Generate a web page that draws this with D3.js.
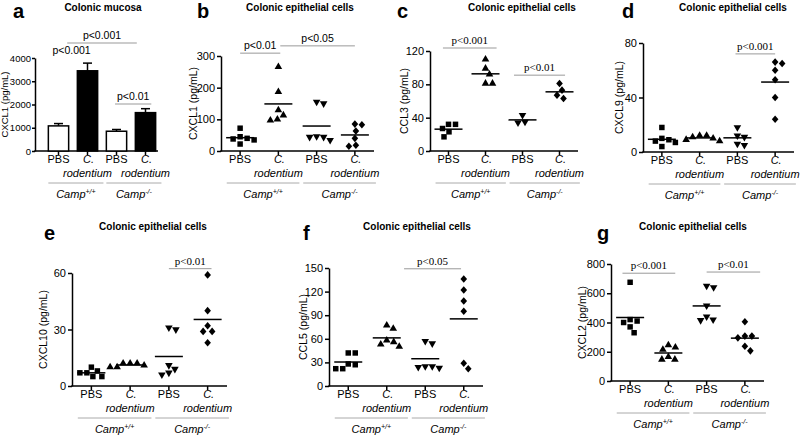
<!DOCTYPE html>
<html><head><meta charset="utf-8">
<script src="https://cdn.jsdelivr.net/npm/d3@7"></script>
<style>body{margin:0;background:#fff}</style>
</head><body><svg id="c" width="800" height="437" style="background:#fff"></svg>
<script>
// ---------- data ----------
const categories = ["PBS", "C. rodentium", "PBS", "C. rodentium"];
const genotypes = ["Camp+/+", "Camp-/-"];

// a: colonic mucosa CXCL1, mean + SEM
const aMeans = [1080, 3450, 850, 1650];
const aSEM = [100, 330, 75, 170];
const aTicks = [0, 1000, 2000, 3000, 4000];

// b-g: colonic epithelial cells, individual mice
const bCXCL1 = [[72, 45, 40, 38, 35, 22], [266, 187, 129, 113, 97, 100], [155, 150, 46, 44, 44, 34], [85, 83, 63, 40, 18, 15]];
const bTicks = [0, 100, 200, 300];
const cCCL3 = [[32, 32, 27, 23, 17], [110, 99, 92, 81, 81], [43, 35, 34], [81, 73, 67, 63]];
const cTicks = [0, 40, 80, 120];
const dCXCL9 = [[18, 10, 9, 8, 7, 4], [8, 11, 9, 12, 10, 12], [18, 12, 11, 6, 5], [65, 66, 60, 53, 40, 24]];
const dTicks = [0, 40, 80];
const eCXCL10 = [[10, 8, 7, 7, 5, 5], [12, 12, 11, 10, 10, 12], [30, 31, 11, 9, 7, 6], [59, 40, 32, 29, 29, 23]];
const eTicks = [0, 30, 60];
const fCCL5 = [[42, 42, 28, 27, 22, 22], [77, 73, 56, 58, 53, 50], [57, 54, 25, 25, 23, 24], [136, 122, 108, 95, 29, 22]];
const fTicks = [0, 30, 60, 90, 120, 150];
const gCXCL2 = [[675, 420, 410, 400, 370, 330], [245, 230, 215, 165, 147, 147], [650, 640, 515, 440, 415, 420], [405, 307, 307, 295, 238, 206]];
const gTicks = [0, 200, 400, 600, 800];

// significance comparisons (category index span, level in data units)
const aSig = [{from: 0.3, to: 2.7, level: 4645, label: "p<0.001"}, {from: 1.95, to: 3.2, level: 2021, label: "p<0.01"}, {at: 0.45, level: 4000, label: "p<0.001", noLine: true}];
const bSig = [{from: 0, to: 1.05, level: 309, label: "p<0.01"}, {from: 1.05, to: 3.0, level: 332, label: "p<0.05"}];
const cSig = [{from: -0.15, to: 1.3, level: 123.6, label: "p<0.001"}, {from: 1.77, to: 3.15, level: 91, label: "p<0.01"}];
const dSig = [{from: 1.95, to: 3.0, level: 72, label: "p<0.001"}];
const eSig = [{from: 2.0, to: 3.1, level: 62.3, label: "p<0.01"}];
const fSig = [{from: 1.45, to: 2.93, level: 149, label: "p<0.05"}];
const gSig = [{from: -0.2, to: 1.18, level: 737, label: "p<0.001"}, {from: 2.0, to: 3.4, level: 745, label: "p<0.01"}];

// ---------- layout ----------
const SANS = "Arial, 'Liberation Sans', sans-serif";
const SERIF = "'Times New Roman', 'Liberation Serif', serif";
const panels = [
  {letter: "a", kind: "bar", title: "Colonic mucosa", ylabel: "CXCL1 (pg/mL)", means: aMeans, sem: aSEM, ticks: aTicks, sig: aSig, sigFont: SANS,
   y0: 151, yTop: 58, axisX: 35, axisEnd: 158, xRange: [44, 160], padIn: 0.3, padOut: 0.15, labelX: 5, labelSize: 9.5, tickSize: 9.5, tickLen: 3, tickPad: 1, titleX: 103, letterX: 13, row: 0},
  {letter: "b", kind: "dot", title: "Colonic epithelial cells", ylabel: "CXCL1 (pg/mL)", values: bCXCL1, ticks: bTicks, sig: bSig, sigFont: SANS,
   y0: 151, yTop: 56, axisX: 221, axisEnd: 374, xRange: [221, 374], labelX: 193, titleX: 300, letterX: 197, row: 0},
  {letter: "c", kind: "dot", title: "Colonic epithelial cells", ylabel: "CCL3 (pg/mL)", values: cCCL3, ticks: cTicks, sig: cSig, sigFont: SERIF,
   y0: 151, yTop: 51, axisX: 430, axisEnd: 578, xRange: [430, 578], labelX: 404, titleX: 522, letterX: 397, row: 0},
  {letter: "d", kind: "dot", title: "Colonic epithelial cells", ylabel: "CXCL9 (pg/mL)", values: dCXCL9, ticks: dTicks, sig: dSig, sigFont: SERIF,
   y0: 152, yTop: 43, axisX: 643, axisEnd: 794, xRange: [643, 794], labelX: 619, titleX: 733, letterX: 622, row: 0},
  {letter: "e", kind: "dot", title: "Colonic epithelial cells", ylabel: "CXCL10 (pg/mL)", values: eCXCL10, ticks: eTicks, sig: eSig, sigFont: SERIF,
   y0: 386, yTop: 273, axisX: 72, axisEnd: 227, xRange: [72, 227], labelX: 43, titleX: 153, letterX: 44, row: 1},
  {letter: "f", kind: "dot", title: "Colonic epithelial cells", ylabel: "CCL5 (pg/mL)", values: fCCL5, ticks: fTicks, sig: fSig, sigFont: SERIF,
   y0: 386, yTop: 268, axisX: 329, axisEnd: 483, xRange: [329, 483], labelX: 303, titleX: 417, letterX: 303, row: 1},
  {letter: "g", kind: "dot", title: "Colonic epithelial cells", ylabel: "CXCL2 (pg/mL)", values: gCXCL2, ticks: gTicks, sig: gSig, sigFont: SERIF,
   y0: 381, yTop: 264, axisX: 611, axisEnd: 764, xRange: [611, 764], labelX: 582, titleX: 693, letterX: 597, row: 1}
];

const svg = d3.select("#c");

// marker shapes for the four groups
const markerPaths = [
  d3.symbol().type(d3.symbolSquare).size(30)(),
  d3.symbol().type(d3.symbolTriangle).size(25)(),
  d3.symbol().type(d3.symbolTriangle).size(25)(),
  "M0,-3.8L3.3,0L0,3.8L-3.3,0Z"
];
const markerRot = [0, 0, 180, 0];

function swarm(vals, y, cx, d) {
  const placed = [];
  const out = new Array(vals.length);
  const order = vals.map((v, i) => i).sort((a, b) => vals[b] - vals[a]);
  order.forEach(i => {
    const py = y(vals[i]);
    let px = cx;
    for (let k = 0; k < 400; k++) {
      const off = k === 0 ? 0 : (k % 2 ? 1 : -1) * Math.ceil(k / 2) * 0.5;
      const cand = cx + off;
      const hit = placed.some(p => (p[0] - cand) ** 2 + (p[1] - py) ** 2 < d * d);
      if (!hit) { px = cand; break; }
    }
    placed.push([px, py]);
    out[i] = [px, py];
  });
  return out;
}

panels.forEach(cfg => {
  const g = svg.append("g");
  const y = d3.scaleLinear().domain([0, d3.max(cfg.ticks)]).range([cfg.y0, cfg.yTop]);
  const x = d3.scaleBand().domain(d3.range(categories.length)).range(cfg.xRange)
    .paddingInner(cfg.padIn || 0).paddingOuter(cfg.padOut || 0);
  const step = x.step();
  const cx = i => x(i) + x.bandwidth() / 2;
  const xi = v => cx(0) + v * step;

  // title & letter
  const tY = cfg.row === 0 ? 11 : 230;
  const lY = cfg.row === 0 ? 18 : 240;
  g.append("text").attr("x", cfg.titleX).attr("y", tY).attr("text-anchor", "middle")
    .attr("font-family", SANS).attr("font-weight", "bold").attr("font-size", 10).text(cfg.title);
  g.append("text").attr("x", cfg.letterX).attr("y", lY)
    .attr("font-family", SANS).attr("font-weight", "bold").attr("font-size", 20).text(cfg.letter);

  // y axis
  const ya = g.append("g").attr("transform", `translate(${cfg.axisX},0)`)
    .call(d3.axisLeft(y).tickValues(cfg.ticks).tickFormat(d3.format("d"))
      .tickSize(cfg.tickLen || 4).tickSizeOuter(0).tickPadding(cfg.tickPad || 2));
  ya.select(".domain").attr("stroke-width", 1.5);
  ya.selectAll(".tick line").attr("stroke-width", 1.5);
  ya.selectAll(".tick text").attr("font-size", cfg.tickSize || 11).attr("font-family", SANS).attr("fill", "#000");

  // y label
  const midY = (cfg.y0 + cfg.yTop) / 2;
  g.append("text").attr("transform", `translate(${cfg.labelX},${midY}) rotate(-90)`)
    .attr("text-anchor", "middle").attr("dy", "0.35em").attr("font-family", SANS).attr("font-size", cfg.labelSize || 10.5)
    .text(cfg.ylabel);

  // x axis
  g.append("line").attr("x1", cfg.axisX - 0.75).attr("x2", cfg.axisEnd).attr("y1", cfg.y0).attr("y2", cfg.y0)
    .attr("stroke", "#000").attr("stroke-width", 1.5);
  categories.forEach((c, i) => {
    g.append("line").attr("x1", cx(i)).attr("x2", cx(i)).attr("y1", cfg.y0).attr("y2", cfg.y0 + 4)
      .attr("stroke", "#000").attr("stroke-width", 1.5);
    const parts = c.split(". ");
    if (parts.length === 1) {
      g.append("text").attr("x", cx(i)).attr("y", cfg.y0 + 12).attr("text-anchor", "middle")
        .attr("font-family", SANS).attr("font-size", 11).text(c);
    } else {
      g.append("text").attr("x", cx(i) + 1).attr("y", cfg.y0 + 12).attr("text-anchor", "middle")
        .attr("font-family", SANS).attr("font-style", "italic").attr("font-size", 11).text(parts[0] + ".");
      g.append("text").attr("x", cx(i)).attr("y", cfg.y0 + 26).attr("text-anchor", "middle")
        .attr("font-family", SANS).attr("font-style", "italic").attr("font-size", 11).text(parts[1]);
    }
  });

  // genotype groups
  genotypes.forEach((gt, k) => {
    const xa = cx(2 * k) - 0.35 * step, xb = cx(2 * k + 1) + 0.55 * step;
    g.append("line").attr("x1", xa).attr("x2", xb).attr("y1", cfg.y0 + 32).attr("y2", cfg.y0 + 32)
      .attr("stroke", "#aaa").attr("stroke-width", 1);
    const m = gt.match(/^(.*?)([+-]\/[+-])$/);
    const t = g.append("text").attr("x", (xa + xb) / 2).attr("y", cfg.y0 + 47).attr("text-anchor", "middle")
      .attr("font-family", SANS).attr("font-style", "italic").attr("font-size", 11);
    t.append("tspan").text(m[1]);
    t.append("tspan").attr("font-size", 7).attr("dy", -4).text(m[2]);
  });

  // marks
  if (cfg.kind === "bar") {
    const bw = x.bandwidth();
    cfg.means.forEach((v, i) => {
      const top = y(v + cfg.sem[i]);
      g.append("line").attr("x1", cx(i)).attr("x2", cx(i)).attr("y1", y(v)).attr("y2", top)
        .attr("stroke", "#000").attr("stroke-width", 1.5);
      g.append("line").attr("x1", cx(i) - 4.5).attr("x2", cx(i) + 4.5).attr("y1", top).attr("y2", top)
        .attr("stroke", "#000").attr("stroke-width", 1.5);
      g.append("rect").attr("x", x(i)).attr("y", y(v)).attr("width", bw).attr("height", y(0) - y(v))
        .attr("fill", i % 2 ? "#000" : "#fff").attr("stroke", "#000").attr("stroke-width", 1.5);
    });
  } else {
    cfg.values.forEach((vals, i) => {
      const pts = swarm(vals, y, cx(i), 7);
      pts.forEach(p => {
        g.append("path").attr("d", markerPaths[i])
          .attr("transform", `translate(${p[0]},${p[1]}) rotate(${markerRot[i]})`).attr("fill", "#000");
      });
      const m = d3.mean(vals);
      g.append("line").attr("x1", cx(i) - 14).attr("x2", cx(i) + 14).attr("y1", y(m)).attr("y2", y(m))
        .attr("stroke", "#000").attr("stroke-width", 1.5);
    });
  }

  // significance
  cfg.sig.forEach(s => {
    const ly = y(s.level);
    let mid;
    if (s.noLine) { mid = xi(s.at); }
    else {
      mid = (xi(s.from) + xi(s.to)) / 2;
      g.append("line").attr("x1", xi(s.from)).attr("x2", xi(s.to)).attr("y1", ly).attr("y2", ly)
        .attr("stroke", "#999").attr("stroke-width", 1);
    }
    g.append("text").attr("x", mid).attr("y", ly - 4).attr("text-anchor", "middle")
      .attr("font-family", cfg.sigFont).attr("font-size", cfg.sigFont === SANS ? 10.5 : 11).text(s.label);
  });
});
</script>
</body></html>
